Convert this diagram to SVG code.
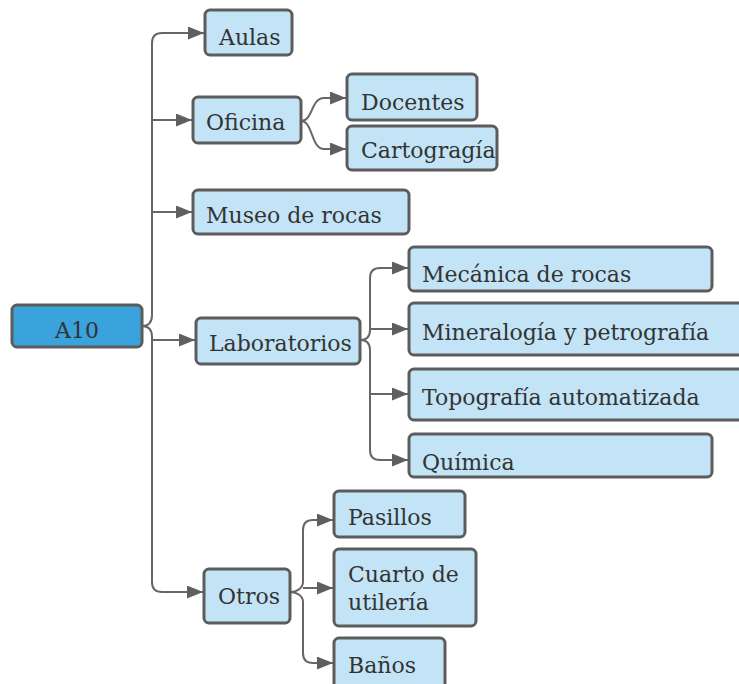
<svg xmlns="http://www.w3.org/2000/svg" width="739" height="684" viewBox="0 0 739 684">
<style>
.n{fill:#c3e4f6;stroke:#5c5c5c;stroke-width:3}
.root{fill:#3aa3dc;stroke:#5c5c5c;stroke-width:3}
.t{font-family:"DejaVu Serif","Liberation Serif",serif;font-size:22px;fill:#333}
.c{fill:none;stroke:#666;stroke-width:2}
</style>
<defs>
<marker id="ah" markerUnits="userSpaceOnUse" markerWidth="16" markerHeight="13" refX="16" refY="6.5" orient="auto">
<path d="M0,0 L16,6.5 L0,13 z" fill="#5f5f5f"/>
</marker>
</defs>
<rect width="739" height="684" fill="#fff"/>
<g id="connectors">
<path class="c" marker-end="url(#ah)" d="M142,326 C149,326 152,322 152,315 V43 Q152,33 162,33 H204"/>
<path class="c" marker-end="url(#ah)" d="M142,326 C149,326 152,330 152,337 V582 Q152,592 162,592 H203"/>
<path class="c" marker-end="url(#ah)" d="M152,120 H192"/>
<path class="c" marker-end="url(#ah)" d="M152,212 H192"/>
<path class="c" marker-end="url(#ah)" d="M152,340 H195"/>
<path class="c" marker-end="url(#ah)" d="M301,121 C313,121 311,98 324,98 H346"/>
<path class="c" marker-end="url(#ah)" d="M301,121 C313,121 311,149 324,149 H346"/>
<path class="c" marker-end="url(#ah)" d="M360,340 C367,340 370,336 370,330 V278 Q370,268 380,268 H408"/>
<path class="c" marker-end="url(#ah)" d="M360,340 C367,340 370,344 370,350 V450 Q370,460 380,460 H408"/>
<path class="c" marker-end="url(#ah)" d="M370,329 H408"/>
<path class="c" marker-end="url(#ah)" d="M370,394 H408"/>
<path class="c" marker-end="url(#ah)" d="M290,592 C297,592 303,588 303,582 V530 Q303,520 313,520 H333"/>
<path class="c" marker-end="url(#ah)" d="M290,592 C297,592 303,596 303,602 V653 Q303,663 313,663 H333"/>
<path class="c" marker-end="url(#ah)" d="M303,588 H333"/>
</g>
<g id="a10"><rect class="root" x="12" y="305" width="130" height="42" rx="5"/><text class="t" x="77" y="338" text-anchor="middle">A10</text></g>
<g id="aulas"><rect class="n" x="205" y="10" width="87" height="45" rx="5"/><text class="t" x="219" y="45">Aulas</text></g>
<g id="oficina"><rect class="n" x="193" y="97" width="108" height="46" rx="5"/><text class="t" x="206" y="130">Oficina</text></g>
<g id="docentes"><rect class="n" x="347" y="74" width="130" height="46" rx="5"/><text class="t" x="361" y="110">Docentes</text></g>
<g id="cartogragia"><rect class="n" x="347" y="126" width="150" height="44" rx="5"/><text class="t" x="361" y="158">Cartogragía</text></g>
<g id="museo"><rect class="n" x="193" y="190" width="216" height="44" rx="5"/><text class="t" x="206" y="223">Museo de rocas</text></g>
<g id="laboratorios"><rect class="n" x="196" y="318" width="164" height="46" rx="5"/><text class="t" x="209" y="351">Laboratorios</text></g>
<g id="mecanica"><rect class="n" x="409" y="247" width="303" height="44" rx="5"/><text class="t" x="422" y="282">Mecánica de rocas</text></g>
<g id="mineralogia"><rect class="n" x="409" y="303" width="340" height="52" rx="5"/><text class="t" x="422" y="340">Mineralogía y petrografía</text></g>
<g id="topografia"><rect class="n" x="409" y="369" width="340" height="51" rx="5"/><text class="t" x="422" y="405">Topografía automatizada</text></g>
<g id="quimica"><rect class="n" x="409" y="434" width="303" height="43" rx="5"/><text class="t" x="422" y="470">Química</text></g>
<g id="otros"><rect class="n" x="204" y="569" width="86" height="54" rx="5"/><text class="t" x="218" y="604">Otros</text></g>
<g id="pasillos"><rect class="n" x="334" y="491" width="131" height="46" rx="5"/><text class="t" x="348" y="525">Pasillos</text></g>
<g id="cuarto"><rect class="n" x="334" y="549" width="142" height="77" rx="5"/><text class="t" x="348" y="582">Cuarto de</text><text class="t" x="348" y="610">utilería</text></g>
<g id="banos"><rect class="n" x="334" y="638" width="111" height="52" rx="5"/><text class="t" x="348" y="673">Baños</text></g>
</svg>
